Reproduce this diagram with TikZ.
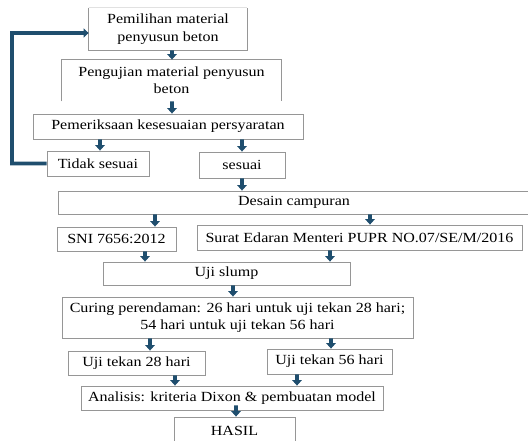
\documentclass[tikz,border=0pt]{standalone}
\usepackage{fontspec}
\setmainfont{Liberation Serif}[FakeStretch=1.15]
\usetikzlibrary{arrows.meta}
\definecolor{arr}{RGB}{31,78,110}
\definecolor{bord}{RGB}{150,150,150}
\definecolor{faint}{RGB}{225,225,225}
\begin{document}
\begin{tikzpicture}[x=1bp,y=-1bp,
  box/.style={draw=bord, line width=0.8bp, fill=white, inner sep=0pt,
    font=\fontsize{14}{17.5}\selectfont, align=center},
  openbox/.style={box, draw=none},
  flow/.style={draw=arr, line width=3.8bp, -{Triangle[width=9.5bp,length=5.5bp]}},
  feedback/.style={draw=arr, line width=3.8bp, line join=miter, -{Triangle[width=9bp,length=5bp]}},
]
\useasboundingbox (0,0) rectangle (528,441);

\node[openbox, minimum width=158bp, minimum height=42bp] (b1) at (168,29) {Pemilihan material\\penyusun beton};
\draw[faint, line width=0.8bp] (b1.north west) -- (b1.north east);
\draw[bord, line width=0.8bp] (b1.north west) -- (b1.south west) -- (b1.south east) -- (b1.north east);

\node[openbox, minimum width=219bp, minimum height=41bp] (b2) at (171.5,80.5) {Pengujian material penyusun\\beton};
\draw[bord, line width=0.8bp] (b2.south west) -- (b2.north west) -- (b2.north east) -- (b2.south east);

\node[box, minimum width=270bp, minimum height=25bp] (b3) at (168,126.5) {Pemeriksaan kesesuaian persyaratan};
\node[box, minimum width=102bp, minimum height=25bp] (tidak) at (98,163.5) {Tidak sesuai};
\node[box, minimum width=86bp, minimum height=26bp] (sesuai) at (242,165) {sesuai};
\node[box, minimum width=472bp, minimum height=23bp] (desain) at (294,202.5) {Desain campuran};
\node[box, minimum width=119bp, minimum height=24bp] (sni) at (116.5,239) {SNI 7656:2012};
\node[box, minimum width=325bp, minimum height=25bp] (surat) at (359.5,237.5) {Surat Edaran Menteri PUPR NO.07/SE/M/2016};
\node[box, minimum width=247bp, minimum height=23bp] (slump) at (226.5,273.5) {Uji slump};
\node[box, minimum width=351bp, minimum height=41bp, font=\fontsize{14}{16.5}\selectfont] (curing) at (237.5,317.5) {Curing perendaman: 26 hari untuk uji tekan 28 hari;\\54 hari untuk uji tekan 56 hari};
\node[box, minimum width=137bp, minimum height=24bp] (u28) at (136.5,363) {Uji tekan 28 hari};
\node[box, minimum width=125bp, minimum height=25bp] (u56) at (329.5,361.5) {Uji tekan 56 hari};
\node[box, minimum width=302bp, minimum height=24bp] (anal) at (232,398) {Analisis: kriteria Dixon \& pembuatan model};
\node[box, minimum width=121bp, minimum height=28bp, text depth=0pt] (hasil) at (234.5,431) {HASIL};

\draw[flow] ([xshift=4bp]b1.south) -- ([xshift=0.5bp]b2.north);
\draw[flow] ([xshift=0.5bp]b2.south) -- ([xshift=4bp]b3.north);
\draw[flow] ([xshift=-68bp]b3.south) -- ([xshift=2bp]tidak.north);
\draw[flow] ([xshift=74bp]b3.south) -- (sesuai.north);
\draw[flow] (sesuai.south) -- ([xshift=-52bp]desain.north);
\draw[flow] ([xshift=-139bp]desain.south) -- ([xshift=38.5bp]sni.north);
\draw[flow] ([xshift=76bp]desain.south) -- ([xshift=10.5bp]surat.north);
\draw[flow] ([xshift=28.5bp]sni.south) -- ([xshift=-81.5bp]slump.north);
\draw[flow] ([xshift=-29.5bp]surat.south) -- ([xshift=103.5bp]slump.north);
\draw[flow] ([xshift=6.5bp]slump.south) -- ([xshift=-4.5bp]curing.north);
\draw[flow] ([xshift=-87.5bp]curing.south) -- ([xshift=13.5bp]u28.north);
\draw[flow] ([xshift=93.5bp]curing.south) -- ([xshift=1.5bp]u56.north);
\draw[flow] ([xshift=38.5bp]u28.south) -- ([xshift=-57bp]anal.north);
\draw[flow] ([xshift=-32.5bp]u56.south) -- ([xshift=65bp]anal.north);
\draw[flow] ([xshift=4bp,yshift=5bp]anal.south) -- ([xshift=1.5bp]hasil.north);

\coordinate (fbc) at (12,33);
\draw[feedback] (tidak.west) -| (fbc) -- ([yshift=-4bp]b1.west);
\end{tikzpicture}
\end{document}
